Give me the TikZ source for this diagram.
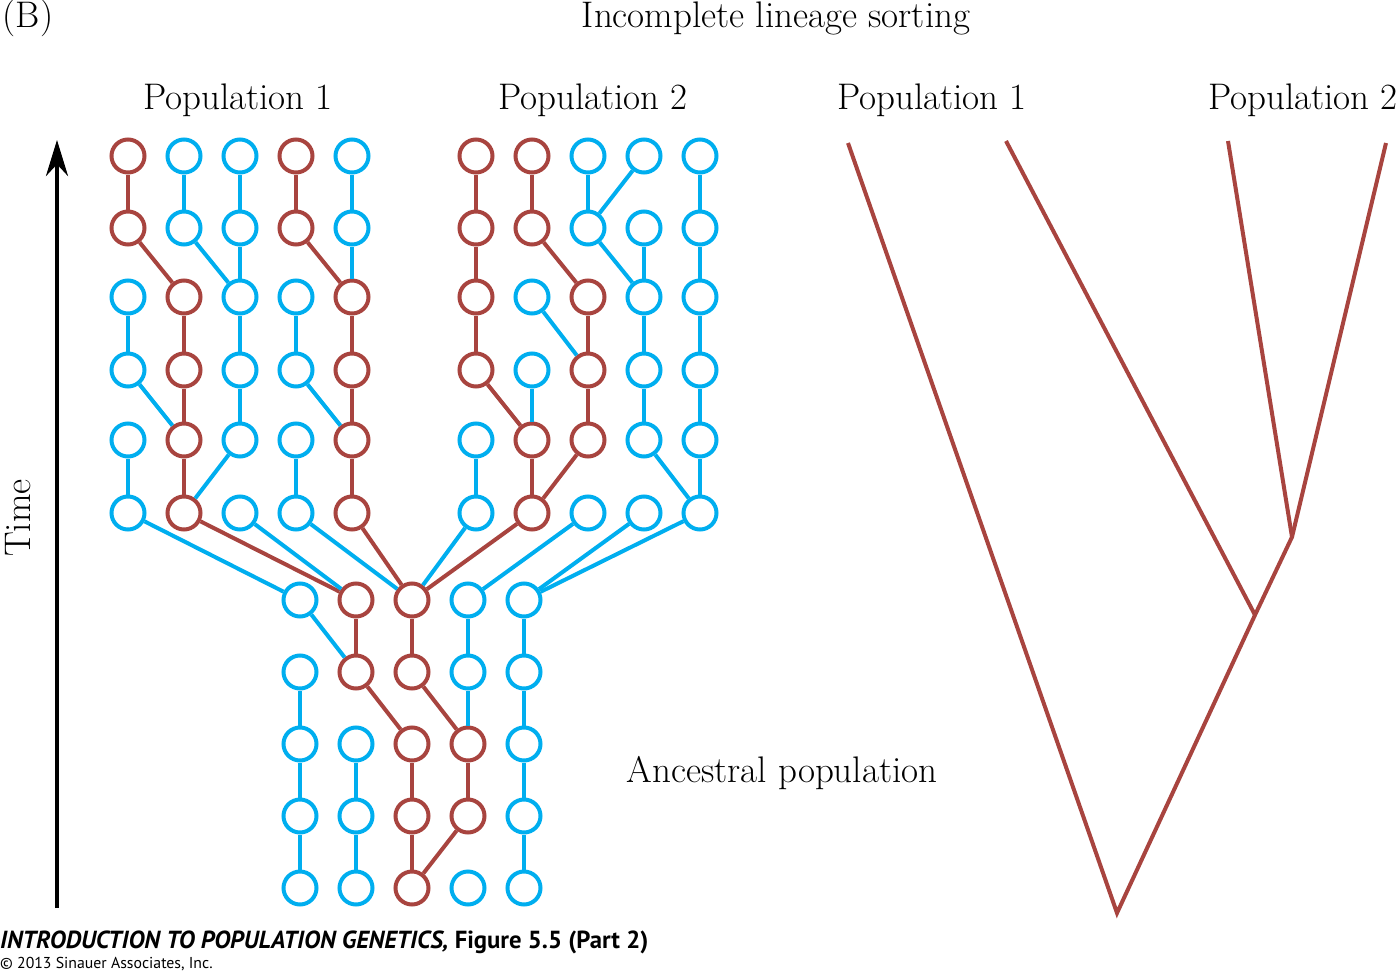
\documentclass[tikz,border=0pt]{standalone}
\usepackage{fontspec}
\setsansfont{PT Sans}
\usetikzlibrary{arrows.meta}
\definecolor{rd}{RGB}{168,68,63}
\definecolor{bl}{RGB}{0,174,239}
% one row of individuals: prefix, row, y, x offset, colours
\newcommand{\cellrow}[5]{%
  \foreach \c [count=\i] in {#5}
    \node[place,draw=\c] (#1-#2-\i) at ({#4+56*\i},#3) {};}

\begin{document}
\begin{tikzpicture}[x=1pt,y=-1pt,
		place/.style={circle,line width=4pt,minimum size=33pt,inner sep=0pt},
		link/.style={line width=4pt},
		branch/.style={line width=4pt,draw=rd},
		label/.style={font=\fontsize{37}{44}\selectfont,inner sep=0pt,anchor=base}]
	\useasboundingbox (0,0) rectangle (1400,971);

	% population 1
	\cellrow{p1}{1}{156}{72}{rd,bl,bl,rd,bl}
	\cellrow{p1}{2}{228}{72}{rd,bl,bl,rd,bl}
	\cellrow{p1}{3}{297}{72}{bl,rd,bl,bl,rd}
	\cellrow{p1}{4}{370}{72}{bl,rd,bl,bl,rd}
	\cellrow{p1}{5}{440}{72}{bl,rd,bl,bl,rd}
	\cellrow{p1}{6}{513}{72}{bl,rd,bl,bl,rd}
	% population 2
	\cellrow{p2}{1}{156}{420}{rd,rd,bl,bl,bl}
	\cellrow{p2}{2}{228}{420}{rd,rd,bl,bl,bl}
	\cellrow{p2}{3}{297}{420}{rd,bl,rd,bl,bl}
	\cellrow{p2}{4}{370}{420}{rd,bl,rd,bl,bl}
	\cellrow{p2}{5}{440}{420}{bl,rd,rd,bl,bl}
	\cellrow{p2}{6}{513}{420}{bl,rd,bl,bl,bl}
	% ancestral population
	\cellrow{a}{1}{600}{244}{bl,rd,rd,bl,bl}
	\cellrow{a}{2}{672}{244}{bl,rd,rd,bl,bl}
	\cellrow{a}{3}{744}{244}{bl,bl,rd,rd,bl}
	\cellrow{a}{4}{816}{244}{bl,bl,rd,rd,bl}
	\cellrow{a}{5}{888}{244}{bl,bl,rd,bl,bl}

	% genealogy: child / parent / colour
	\foreach \a/\b/\c in {
		p1-1-1/p1-2-1/rd, p1-1-2/p1-2-2/bl, p1-1-3/p1-2-3/bl, p1-1-4/p1-2-4/rd, p1-1-5/p1-2-5/bl,
		p1-2-1/p1-3-2/rd, p1-2-2/p1-3-3/bl, p1-2-3/p1-3-3/bl, p1-2-4/p1-3-5/rd, p1-2-5/p1-3-5/bl,
		p1-3-1/p1-4-1/bl, p1-3-2/p1-4-2/rd, p1-3-3/p1-4-3/bl, p1-3-4/p1-4-4/bl, p1-3-5/p1-4-5/rd,
		p1-4-1/p1-5-2/bl, p1-4-2/p1-5-2/rd, p1-4-3/p1-5-3/bl, p1-4-4/p1-5-5/bl, p1-4-5/p1-5-5/rd,
		p1-5-1/p1-6-1/bl, p1-5-2/p1-6-2/rd, p1-5-3/p1-6-2/bl, p1-5-4/p1-6-4/bl, p1-5-5/p1-6-5/rd,
		p1-6-1/a-1-1/bl, p1-6-2/a-1-2/rd, p1-6-3/a-1-2/bl, p1-6-4/a-1-3/bl, p1-6-5/a-1-3/rd,
		p2-1-1/p2-2-1/rd, p2-1-2/p2-2-2/rd, p2-1-3/p2-2-3/bl, p2-1-4/p2-2-3/bl, p2-1-5/p2-2-5/bl,
		p2-2-1/p2-3-1/rd, p2-2-2/p2-3-3/rd, p2-2-3/p2-3-4/bl, p2-2-4/p2-3-4/bl, p2-2-5/p2-3-5/bl,
		p2-3-1/p2-4-1/rd, p2-3-2/p2-4-3/bl, p2-3-3/p2-4-3/rd, p2-3-4/p2-4-4/bl, p2-3-5/p2-4-5/bl,
		p2-4-1/p2-5-2/rd, p2-4-2/p2-5-2/bl, p2-4-3/p2-5-3/rd, p2-4-4/p2-5-4/bl, p2-4-5/p2-5-5/bl,
		p2-5-1/p2-6-1/bl, p2-5-2/p2-6-2/rd, p2-5-3/p2-6-2/rd, p2-5-4/p2-6-5/bl, p2-5-5/p2-6-5/bl,
		p2-6-1/a-1-3/bl, p2-6-2/a-1-3/rd, p2-6-3/a-1-4/bl, p2-6-4/a-1-5/bl, p2-6-5/a-1-5/bl,
		a-1-1/a-2-2/bl, a-1-2/a-2-2/rd, a-1-3/a-2-3/rd, a-1-4/a-2-4/bl, a-1-5/a-2-5/bl,
		a-2-1/a-3-1/bl, a-2-2/a-3-3/rd, a-2-3/a-3-4/rd, a-2-4/a-3-4/bl, a-2-5/a-3-5/bl,
		a-3-1/a-4-1/bl, a-3-2/a-4-2/bl, a-3-3/a-4-3/rd, a-3-4/a-4-4/rd, a-3-5/a-4-5/bl,
		a-4-1/a-5-1/bl, a-4-2/a-5-2/bl, a-4-3/a-5-3/rd, a-4-4/a-5-3/rd, a-4-5/a-5-5/bl}
		\draw[link,draw=\c] (\a) -- (\b);

	% time axis
	\coordinate (tbot) at (57,908);
	\coordinate (ttop) at (57,140);
	\draw[line width=4pt,-{Stealth[length=36pt,width=22pt]}] (tbot) -- (ttop);
	\node[label,rotate=90] (time) at (30,518) {Time};

	% species tree
	\coordinate (root) at (1117,913);
	\coordinate (j1) at (1255,615);
	\coordinate (j2) at (1292,537);
	\coordinate (t1) at (848,143);
	\coordinate (t2) at (1006,141);
	\coordinate (t3) at (1228,141);
	\coordinate (t4) at (1386,143);
	\draw[branch] (t1) -- (root) -- (j1) -- (j2) -- (t4);
	\draw[branch] (t2) -- (j1);
	\draw[branch] (t3) -- (j2);

	% labels
	\node[label] (part) at (28,28) {(B)};
	\node[label] (title) at (776,28) {Incomplete lineage sorting};
	\node[label] (pop1) at (238,110) {Population 1};
	\node[label] (pop2) at (593,110) {Population 2};
	\node[label] (tpop1) at (932,110) {Population 1};
	\node[label] (tpop2) at (1303,110) {Population 2};
	\node[label] (anc) at (782,782) {Ancestral population};
	\node[anchor=base west,inner sep=0pt,font=\sffamily\bfseries\fontsize{24.7}{28}\selectfont] (fig) at (0,948)
		{\textit{INTRODUCTION TO POPULATION GENETICS,} Figure 5.5 (Part 2)};
	\node[anchor=base west,inner sep=0pt,font=\sffamily\fontsize{15.8}{18}\selectfont] (copy) at (0,968)
		{\textcopyright{} 2013 Sinauer Associates, Inc.};
\end{tikzpicture}
\end{document}
